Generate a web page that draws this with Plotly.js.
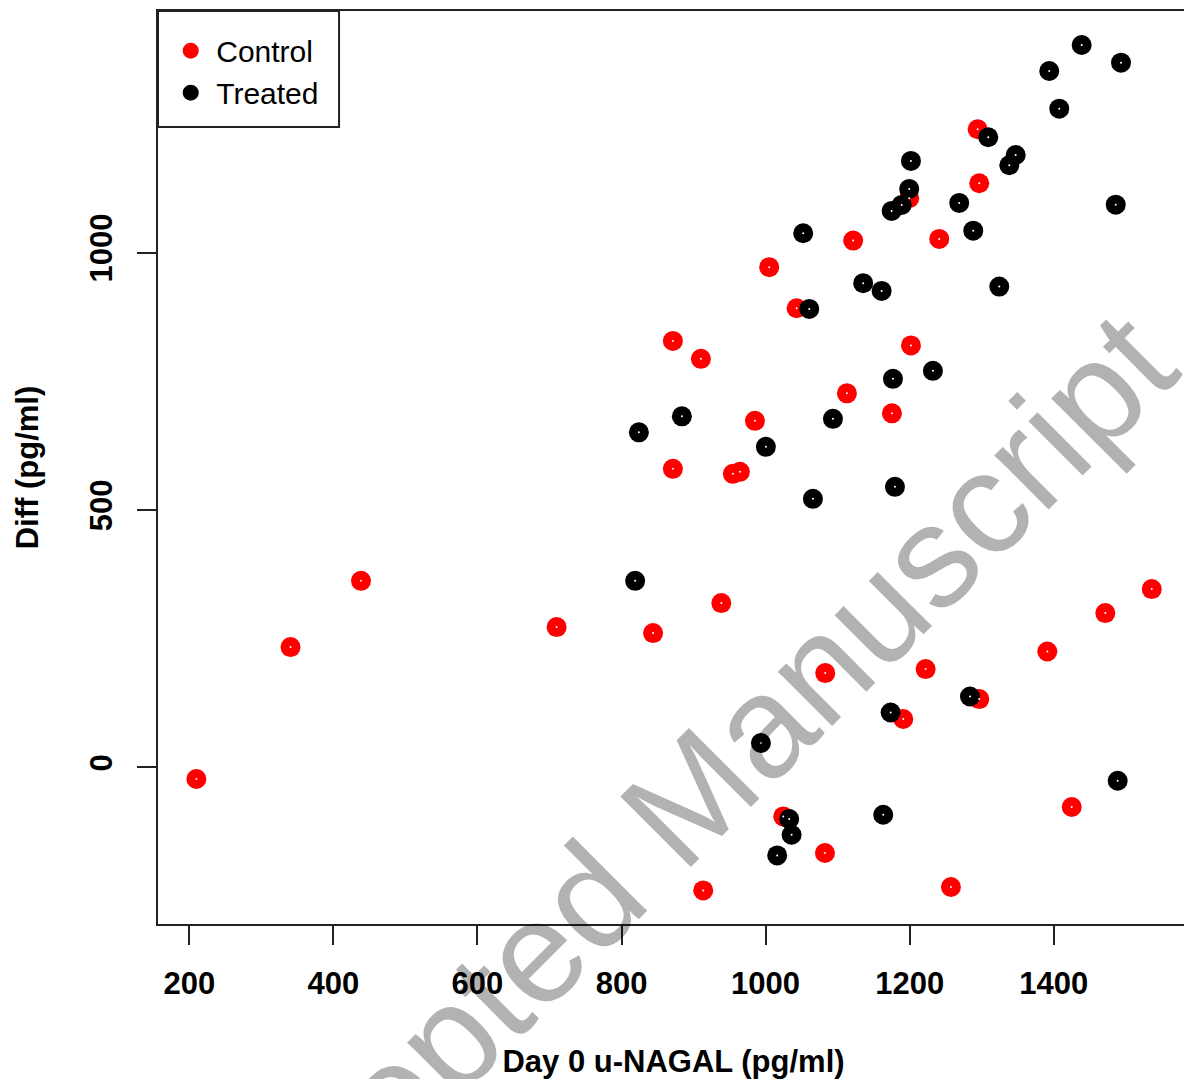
<!DOCTYPE html>
<html>
<head>
<meta charset="utf-8">
<script src="https://cdn.plot.ly/plotly-3.0.1.min.js"></script>
<style>
html,body{margin:0;padding:0;overflow:hidden;background:#fff;}
#chart{width:1200px;height:1079px;}
</style>
</head>
<body>
<div id="chart"></div>
<script>
// Control group (red)
const controlX = [209.8, 340.5, 438.3, 709.9, 843.8, 938.5, 871.3, 910.2, 871.3, 954.6, 964.3, 985.2,
  1005.0, 1043.1, 1121.6, 1112.9, 1175.4, 1201.8, 1241.1, 1294.4, 1296.6, 1199.4, 1082.8, 1222.2,
  1191.1, 1296.6, 1391.1, 1471.6, 1536.1, 1425.0, 1082.4, 1257.3, 913.4, 1024.5];
const controlY = [-22.5, 233.8, 362.5, 272.6, 261.0, 319.2, 828.5, 793.6, 580.0, 570.3, 574.2, 673.2,
  971.7, 892.0, 1023.3, 726.6, 687.8, 819.8, 1026.6, 1239.6, 1134.8, 1105.6, 183.3, 191.1,
  94.0, 132.8, 225.2, 299.8, 346.4, -76.9, -166.2, -232.2, -238.8, -95.1];
// Treated group (black)
const treatedX = [818.9, 824.1, 883.8, 1000.4, 1065.7, 1093.5, 1176.8, 1232.3, 1179.6, 1060.6, 1052.2,
  1135.5, 1161.1, 1324.4, 1288.3, 1268.8, 1486.1, 1175.0, 1188.9, 1199.4, 1201.8, 1309.1, 1347.2,
  1338.3, 1407.7, 1393.8, 1438.8, 1493.4, 1283.7, 1173.6, 993.5, 1488.8, 1163.3, 1032.8, 1036.1, 1016.1];
const treatedY = [362.5, 650.9, 682.0, 622.7, 521.7, 677.1, 754.8, 770.3, 545.0, 890.7, 1037.7,
  940.6, 925.6, 934.0, 1042.7, 1096.5, 1093.2, 1081.0, 1092.6, 1123.7, 1178.1, 1224.1, 1189.7,
  1169.7, 1279.6, 1352.8, 1403.3, 1368.9, 137.9, 106.8, 47.4, -25.8, -91.8, -100.2, -130.7, -170.9];
const xTicks = [200, 400, 600, 800, 1000, 1200, 1400];
const yTicks = [0, 500, 1000];
const groupNames = ["Control", "Treated"];
const watermark = "Accepted Manuscript";

const FONT = "Liberation Sans, Arial, sans-serif";
const traces = [
  {x: controlX, y: controlY, name: groupNames[0], type: "scatter", mode: "markers",
   marker: {color: "#ff0000", size: 20, line: {width: 0}}},
  {x: treatedX, y: treatedY, name: groupNames[1], type: "scatter", mode: "markers",
   marker: {color: "#000000", size: 20, line: {width: 0}}},
  {x: controlX, y: controlY, type: "scatter", mode: "markers", showlegend: false, hoverinfo: "skip",
   marker: {color: "#ffffff", size: 2, line: {width: 0}}},
  {x: treatedX, y: treatedY, type: "scatter", mode: "markers", showlegend: false, hoverinfo: "skip",
   marker: {color: "#ffffff", size: 2, line: {width: 0}}}
];

const axisCommon = {
  showgrid: false, zeroline: false, showline: true, mirror: true,
  linecolor: "#222", linewidth: 2, ticks: "outside", ticklen: 19, tickwidth: 2, tickcolor: "#222",
  tickfont: {family: FONT, size: 31, color: "#000", weight: "bold"}
};

const layout = {
  width: 1200, height: 1079,
  margin: {l: 158, r: 11, t: 11, b: 155},
  paper_bgcolor: "#fff", plot_bgcolor: "#fff",
  font: {family: FONT, color: "#000"},
  xaxis: Object.assign({}, axisCommon, {
    range: [156.5, 1587.8], tickvals: xTicks, ticktext: xTicks.map(String),
    ticklabelstandoff: 12,
    title: {text: "Day 0 u-NAGAL (pg/ml)", font: {family: FONT, size: 31, color: "#000", weight: "bold"}, standoff: 50}
  }),
  yaxis: Object.assign({}, axisCommon, {
    range: [-304.1, 1469.3], tickvals: yTicks, ticktext: yTicks.map(String),
    tickangle: -90, ticklabelstandoff: 13,
    title: {text: "Diff (pg/ml)", font: {family: FONT, size: 31, color: "#000", weight: "bold"}, standoff: 36}
  }),
  showlegend: true,
  legend: {
    x: 0.007, y: 0.985, xanchor: "left", yanchor: "top",
    bgcolor: "rgba(0,0,0,0)", borderwidth: 0,
    font: {family: FONT, size: 30, color: "#000"},
    tracegroupgap: 0, itemwidth: 41
  },
  shapes: [{
    type: "rect", xref: "paper", yref: "paper", x0: 0, x1: 0.1756, y0: 0.873, y1: 1,
    line: {color: "#222", width: 2}, fillcolor: "rgba(0,0,0,0)", layer: "above"
  }],
  annotations: [{
    text: watermark, xref: "paper", yref: "paper", x: 0.497, y: 0.117,
    xanchor: "center", yanchor: "middle",
    showarrow: false, textangle: -45,
    font: {family: FONT, size: 145, color: "rgba(0,0,0,0.3)"}
  }]
};

Plotly.newPlot("chart", traces, layout, {displayModeBar: false, staticPlot: true});
</script>
</body>
</html>
